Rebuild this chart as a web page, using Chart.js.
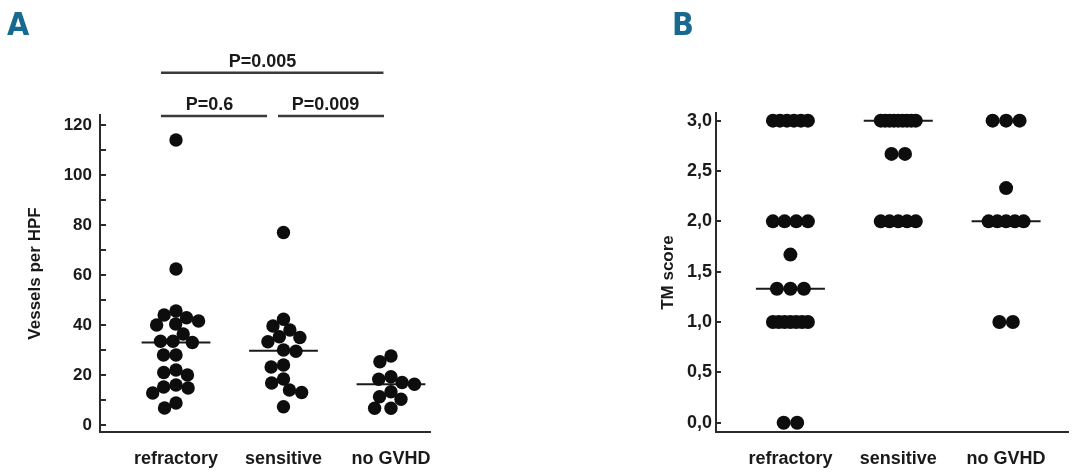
<!DOCTYPE html>
<html><head><meta charset="utf-8">
<script src="https://cdn.jsdelivr.net/npm/chart.js@4.4.1/dist/chart.umd.min.js"></script>
<style>
html,body{margin:0;padding:0;background:#fff;}
#wrap{position:relative;width:1075px;height:472px;overflow:hidden;background:#fff;}
.panel{position:absolute;top:0;height:472px;}
.letter{position:absolute;font-family:'Liberation Sans Narrow','DejaVu Sans Condensed',sans-serif;font-stretch:condensed;font-weight:bold;font-size:32px;color:#17698f;line-height:1;}
</style></head><body>
<div id="wrap">
<div class="panel" style="left:0;width:540px"><canvas id="cA" width="540" height="472"></canvas></div>
<div class="panel" style="left:540px;width:535px"><canvas id="cB" width="535" height="472"></canvas></div>
<div class="letter" style="left:7px;top:8px">A</div>
<div class="letter" style="left:672px;top:8px">B</div>
</div>
<script>
// ---------- data ----------
const categories = ['refractory', 'sensitive', 'no GVHD'];

const vesselsRefractory = [114, 62.4, 44, 45.6, 42.9, 40, 40.4, 41.6, 36.4, 33.5, 33.5, 33, 28, 28, 20, 21, 22, 12.8, 14.8, 15.2, 16, 6.8, 8.8];
const vesselsSensitive  = [77, 42.3, 38, 39.6, 33.3, 35, 35.3, 29.5, 30, 23.2, 24, 16.8, 18.4, 13, 14, 7.3];
const vesselsNoGVHD     = [25.3, 27.6, 16.3, 17, 18.3, 19.3, 10.3, 11.3, 13.3, 6.7, 6.7];

const tmRefractory = [3, 3, 3, 3, 3, 3, 2, 2, 2, 2, 1.67, 1.33, 1.33, 1.33, 1, 1, 1, 1, 1, 1, 1, 0, 0];
const tmSensitive  = [3, 3, 3, 3, 3, 3, 3, 3, 3, 2.67, 2.67, 2, 2, 2, 2, 2];
const tmNoGVHD     = [3, 3, 3, 2.33, 2, 2, 2, 2, 2, 1, 1];

const yTicksA = [0, 10, 20, 30, 40, 50, 60, 70, 80, 90, 100, 110, 120];
const yTickLabelsA = ['0', '', '20', '', '40', '', '60', '', '80', '', '100', '', '120'];
const yTicksB = [0, 0.5, 1, 1.5, 2, 2.5, 3];
const yTickLabelsB = ['0,0', '0,5', '1,0', '1,5', '2,0', '2,5', '3,0'];

const pValueLabels = ['P=0.6', 'P=0.009', 'P=0.005'];

// ---------- layout ----------
const FONT = "'Liberation Sans', Arial, Helvetica, sans-serif";
const LA = {w: 540, left: 100, right: 430, top: 115, bottom: 432, xmin: 0.293, xmax: 3.363, ymin: -2.8, ymax: 124};
const LB = {w: 535, left: 176, right: 528, top: 113, bottom: 432, xmin: 0.31, xmax: 3.574, ymin: -0.092, ymax: 3.076};

function median(arr) {
  const s = arr.slice().sort((a, b) => a - b);
  const n = s.length;
  return n % 2 ? s[(n - 1) / 2] : (s[n / 2 - 1] + s[n / 2]) / 2;
}

// beeswarm-type dodge (returns x offsets in axis units)
function swarm(values, pxPerX, pxPerY, diameter) {
  const idx = values.map((v, i) => i).sort((a, b) => values[b] - values[a]);
  const placed = [];
  const out = new Array(values.length);
  for (const i of idx) {
    const y = values[i] * pxPerY;
    const intervals = [];
    for (const p of placed) {
      const dy = Math.abs(p.y - y);
      if (dy < diameter) {
        const dx = Math.sqrt(diameter * diameter - dy * dy);
        intervals.push([p.x - dx, p.x + dx]);
      }
    }
    const cands = [0];
    intervals.forEach(([a, b]) => cands.push(a, b));
    cands.sort((a, b) => Math.abs(a) - Math.abs(b));
    let best = 0;
    for (const c of cands) {
      if (intervals.every(([a, b]) => c <= a + 1e-6 || c >= b - 1e-6)) { best = c; break; }
    }
    placed.push({x: best, y});
    out[i] = best / pxPerX;
  }
  return out;
}

// rows of equal values, spread evenly
function rows(values, pxPerX, maxWidth, dotD, maxGap) {
  const groups = new Map();
  values.forEach((v, i) => { if (!groups.has(v)) groups.set(v, []); groups.get(v).push(i); });
  const out = new Array(values.length);
  groups.forEach(ids => {
    const n = ids.length;
    const gap = n > 1 ? Math.min(maxGap, (maxWidth - dotD) / (n - 1)) : 0;
    ids.forEach((id, k) => { out[id] = (k - (n - 1) / 2) * gap / pxPerX; });
  });
  return out;
}

function buildDatasets(groups, offsetsFn, radius, halfLine) {
  const ds = [];
  groups.forEach((vals, g) => {
    const off = offsetsFn(vals);
    ds.push({
      type: 'scatter',
      data: vals.map((v, i) => ({x: g + 1 + off[i], y: v})),
      pointRadius: radius, pointHoverRadius: radius,
      pointBackgroundColor: '#0d0d0d', pointBorderWidth: 0, borderWidth: 0,
      clip: false, order: 1
    });
    const m = median(vals);
    ds.push({
      type: 'line',
      data: [{x: g + 1 - halfLine, y: m}, {x: g + 1 + halfLine, y: m}],
      borderColor: '#1a1a1a', borderWidth: 2, pointRadius: 0, fill: false, clip: false, order: 2
    });
  });
  return ds;
}

const innerTicks = {
  id: 'innerTicks',
  afterDraw(chart, args, opts) {
    const ys = chart.scales.y, ctx = chart.ctx;
    const x0 = chart.chartArea.left;
    ctx.save();
    ctx.strokeStyle = '#2b2b2b';
    ctx.lineWidth = 2;
    opts.values.forEach(v => {
      const y = Math.round(ys.getPixelForValue(v)) + 0.0;
      ctx.beginPath(); ctx.moveTo(x0, y); ctx.lineTo(x0 + opts.len, y); ctx.stroke();
    });
    ctx.restore();
  }
};

const brackets = {
  id: 'brackets',
  afterDraw(chart, args, opts) {
    if (!opts.items) return;
    const xs = chart.scales.x, ys = chart.scales.y, ctx = chart.ctx;
    ctx.save();
    opts.items.forEach(it => {
      const y = ys.getPixelForValue(it.y);
      ctx.strokeStyle = '#3a3a3a'; ctx.lineWidth = 2.5;
      ctx.beginPath(); ctx.moveTo(xs.getPixelForValue(it.x1), y); ctx.lineTo(xs.getPixelForValue(it.x2), y); ctx.stroke();
      ctx.fillStyle = '#1a1a1a';
      ctx.font = 'bold 18px ' + FONT;
      ctx.textAlign = 'center'; ctx.textBaseline = 'alphabetic';
      ctx.fillText(it.label, xs.getPixelForValue(it.tx), y - 6);
    });
    ctx.restore();
  }
};

function makeChart(id, L, groups, offsetsFn, radius, yTicks, yLabels, yTitle, titlePad, tickFont, tickPad, tickLen, bracketItems) {
  return new Chart(document.getElementById(id), {
    data: {datasets: buildDatasets(groups, offsetsFn, radius, 0.32)},
    plugins: [innerTicks, brackets],
    options: {
      responsive: false, animation: false, devicePixelRatio: 1,
      layout: {padding: {left: 0, right: L.w - L.right, top: L.top, bottom: 0}},
      plugins: {
        legend: {display: false}, tooltip: {enabled: false},
        innerTicks: {values: yTicks, len: tickLen},
        brackets: {items: bracketItems}
      },
      scales: {
        x: {
          type: 'linear', position: 'bottom', min: L.xmin, max: L.xmax,
          afterBuildTicks: s => { s.ticks = categories.map((c, i) => ({value: i + 1})); },
          afterFit: s => { s.height = 472 - L.bottom; },
          ticks: {callback: v => categories[Math.round(v) - 1] || '', color: '#1a1a1a', padding: 16,
                  font: {family: FONT, size: 18, weight: 'bold'}, maxRotation: 0, autoSkip: false},
          grid: {display: false, drawTicks: false},
          border: {display: true, color: '#2b2b2b', width: 2}
        },
        y: {
          type: 'linear', position: 'left', min: L.ymin, max: L.ymax,
          afterBuildTicks: s => { s.ticks = yTicks.map(v => ({value: v})); },
          afterFit: s => { s.width = L.left; },
          ticks: {callback: (v, i) => yLabels[yTicks.indexOf(v)] ?? '', color: '#1a1a1a', padding: tickPad,
                  font: {family: FONT, size: tickFont, weight: 'bold'}, autoSkip: false},
          grid: {display: false, drawTicks: false},
          border: {display: true, color: '#2b2b2b', width: 2},
          title: {display: true, text: yTitle, color: '#1a1a1a', padding: {top: titlePad, bottom: 0},
                  font: {family: FONT, size: 17, weight: 'bold'}}
        }
      }
    }
  });
}

const pxA = {x: (LA.right - LA.left) / (LA.xmax - LA.xmin), y: (LA.bottom - LA.top) / (LA.ymax - LA.ymin)};
const pxB = {x: (LB.right - LB.left) / (LB.xmax - LB.xmin)};

makeChart('cA', LA, [vesselsRefractory, vesselsSensitive, vesselsNoGVHD],
  vals => swarm(vals, pxA.x, pxA.y, 12.5), 6.7,
  yTicksA, yTickLabelsA, 'Vessels per HPF', 25, 17, 8, 6,
  [
    {x1: 0.86, x2: 1.847, y: 123.6, tx: 1.312, label: pValueLabels[0]},
    {x1: 1.949, x2: 2.935, y: 123.6, tx: 2.391, label: pValueLabels[1]},
    {x1: 0.86, x2: 2.93, y: 140.9, tx: 1.805, label: pValueLabels[2]}
  ]);

makeChart('cB', LB, [tmRefractory, tmSensitive, tmNoGVHD],
  vals => rows(vals, pxB.x, 49, 14, 13.5), 7,
  yTicksB, yTickLabelsB, 'TM score', 118, 18, 4, 5, null);
</script>
</body></html>
